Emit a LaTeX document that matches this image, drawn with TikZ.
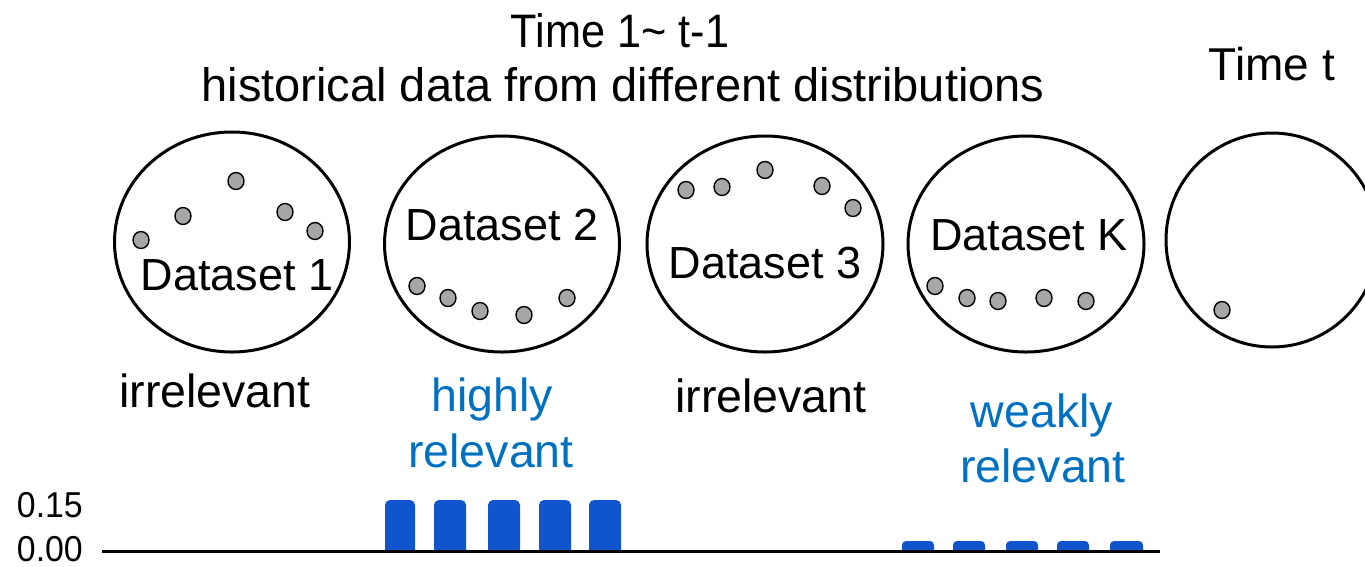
\documentclass[tikz,border=0pt]{standalone}
\usepackage{fontspec}
\setmainfont{Liberation Sans}
\newfontfamily\narrowfont[FakeStretch=0.92]{Liberation Sans}
\newfontfamily\tickfont[FakeStretch=0.94]{Liberation Sans}
\usetikzlibrary{shapes.geometric}
\definecolor{relblue}{HTML}{0070C0}
\definecolor{barblue}{HTML}{1155CC}
\definecolor{dotgray}{HTML}{A6A6A6}
\tikzset{
  pool/.style={draw=black, line width=3pt, ellipse, inner sep=0pt},
  pt/.style={draw=black, line width=1.4pt, fill=dotgray, ellipse, inner sep=0pt,
             minimum width=16pt, minimum height=17pt},
  dsname/.style={anchor=base, inner sep=0pt, font=\fontsize{45}{52}\selectfont},
  head/.style={anchor=base, inner sep=0pt, font=\fontsize{47}{54}\selectfont},
  tag/.style={anchor=base, inner sep=0pt, font=\fontsize{46.5}{54}\selectfont},
  bluetag/.style={tag, text=relblue},
  tick/.style={anchor=base east, inner sep=0pt, font=\tickfont\fontsize{36}{42}\selectfont},
  bar/.style={fill=barblue}
}
\begin{document}
\begin{tikzpicture}[x=1pt,y=-1pt]
\useasboundingbox (0,0) rectangle (1365,566);

% headings
\node[head, font=\narrowfont\fontsize{47}{54}\selectfont] (h1) at (620,47) {Time 1\textasciitilde\ t-1};
\node[head] (h2) at (623,101) {historical data from different distributions};
\node[head, font=\fontsize{46}{54}\selectfont] (h3) at (1272,80) {Time t};

% data pools
\node[pool, minimum width=235pt, minimum height=220pt] (c1) at (232,242) {};
\node[pool, minimum width=235pt, minimum height=216pt] (c2) at (502,244) {};
\node[pool, minimum width=236pt, minimum height=216pt] (c3) at (765,244) {};
\node[pool, minimum width=236pt, minimum height=216pt] (c4) at (1026,244) {};
\node[pool, minimum width=212pt, minimum height=214pt] (c5) at (1272,240) {};

\node[dsname] (d1) at (237,290) {Dataset 1};
\node[dsname] (d2) at (502,240) {Dataset 2};
\node[dsname] (d3) at (765,278) {Dataset 3};
\node[dsname] (dk) at (1029,250) {Dataset K};

% samples in each pool
\node[pt] (p11) at (141,240) {};
\node[pt] (p12) at (183,216) {};
\node[pt] (p13) at (236,181) {};
\node[pt] (p14) at (285,212) {};
\node[pt] (p15) at (315,231) {};

\node[pt] (p21) at (417,286) {};
\node[pt] (p22) at (448,298) {};
\node[pt] (p23) at (480,311) {};
\node[pt] (p24) at (524,315) {};
\node[pt] (p25) at (567,298) {};

\node[pt] (p31) at (686,190) {};
\node[pt] (p32) at (722,187) {};
\node[pt] (p33) at (765,170) {};
\node[pt] (p34) at (822,186) {};
\node[pt] (p35) at (853,208) {};

\node[pt] (p41) at (935,286) {};
\node[pt] (p42) at (967,298) {};
\node[pt] (p43) at (998,301) {};
\node[pt] (p44) at (1044,298) {};
\node[pt] (p45) at (1086,301) {};

\node[pt] (p51) at (1222,310) {};

% relevance tags
\node[tag] (r1) at (215,407) {irrelevant};
\node[bluetag] (r2a) at (492,411) {highly};
\node[bluetag] (r2b) at (491,467) {relevant};
\node[tag] (r3) at (771,412) {irrelevant};
\node[bluetag] (rka) at (1042,427) {weakly};
\node[bluetag] (rkb) at (1043,482) {relevant};

% weight bars
\foreach \a/\b in {385/415, 434/466, 488/520, 539/571, 589/621}
  \fill[bar] (\a,552) [rounded corners=5pt] -- (\a,500) -- (\b,500) [sharp corners] -- (\b,552) -- cycle;
\foreach \a/\b in {902/934, 953/985, 1006/1038, 1057/1089, 1110/1143}
  \fill[bar] (\a,552) [rounded corners=4pt] -- (\a,541) -- (\b,541) [sharp corners] -- (\b,552) -- cycle;

% axis and tick labels
\coordinate (ax0) at (102,551);
\coordinate (ax1) at (1160,551);
\draw[line width=3pt] (ax0) -- (ax1);
\node[tick] (t15) at (83,517) {0.15};
\node[tick] (t00) at (83,561) {0.00};
\end{tikzpicture}
\end{document}
